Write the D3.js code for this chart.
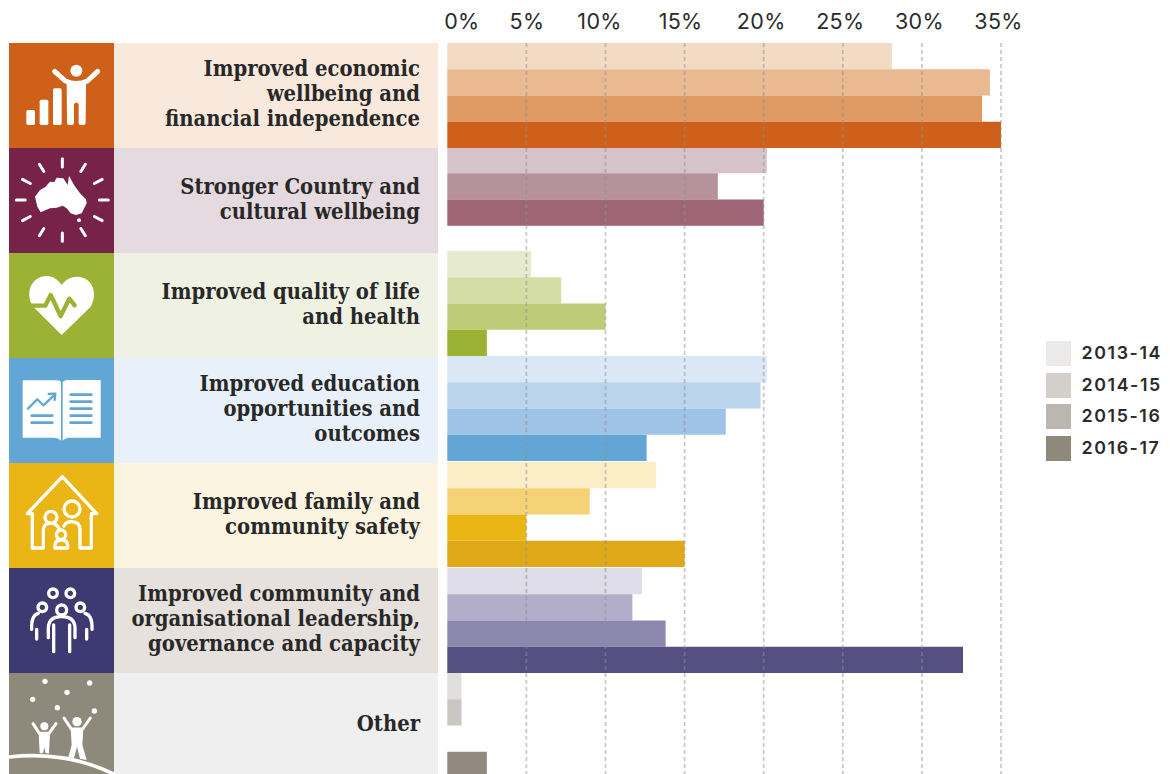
<!DOCTYPE html>
<html>
<head>
<meta charset="utf-8">
<script src="https://cdn.jsdelivr.net/npm/d3@7"></script>
<style>
html,body{margin:0;padding:0;background:#fff;overflow:hidden}
svg{display:block}
.cat{font-family:"DejaVu Serif Condensed","DejaVu Serif",serif;font-weight:700;font-size:21.8px;fill:#282828;text-anchor:end}
.tick text,.lg{font-family:"Inter","Open Sans",sans-serif;fill:#2b2b2b}
</style>
</head>
<body>
<svg id="chart" width="1170" height="774"></svg>
<script>
// Share of activity by outcome area and financial year (percent)
const categories = [
  ["Improved economic","wellbeing and","financial independence"],
  ["Stronger Country and","cultural wellbeing"],
  ["Improved quality of life","and health"],
  ["Improved education","opportunities and","outcomes"],
  ["Improved family and","community safety"],
  ["Improved community and","organisational leadership,","governance and capacity"],
  ["Other"]
];
const years = ["2013-14","2014-15","2015-16","2016-17"];
const values2013 = [28.1, 20.2, 5.3, 20.2, 13.2, 12.3, 0.9];
const values2014 = [34.3, 17.1, 7.2, 19.8, 9.0, 11.7, 0.9];
const values2015 = [33.8, 20.0, 10.0, 17.6, 5.0, 13.8, null];
const values2016 = [35.0, null, 2.5, 12.6, 15.0, 32.6, 2.5];
const tickValues = [0,5,10,15,20,25,30,35];
const tickShift = [14,0,-6.5,-4.5,-3,-3,-3,-3];
const barRowShift = [0,-1,-2,-2,-1,0,0];

const iconColors = ["#cf601a","#772248","#9cb234","#62a6d6","#eab616","#3d3a72","#8e897b"];
const labelBacks = ["#f9e9dc","#e5dadf","#eff2e2","#e8f0f9","#fbf4e0","#e6e1dc","#efefef"];
const barColors = [
  ["#f3dac3","#e9ba91","#df9b63","#cf601a"],
  ["#d6c3c9","#b6929b","#9e6577","#9e6577"],
  ["#e6ebd0","#d4dda6","#becb78","#9cb234"],
  ["#dae7f5","#bad4ee","#9ec3e6","#62a6d6"],
  ["#fbedc6","#f5d276","#eab616","#dfa816"],
  ["#deddE9","#b2aeca","#8b87ad","#564f82"],
  ["#e0dfdc","#cac6c1","#bbb7b0","#928a7e"]
];
const legendColors = ["#ebeae8","#d3d0cc","#bbb7b0","#8e897b"];

const series = [values2013, values2014, values2015, values2016];
const svg = d3.select("#chart");

const x = d3.scaleLinear().domain([0,35]).range([447.3,1001]);
const y = d3.scaleBand().domain(d3.range(categories.length)).range([43,778]);
const yInner = d3.scaleBand().domain(years).range([0,y.bandwidth()]);

// Category panels: coloured icon tile and tinted label block
const rows = svg.selectAll("g.row").data(categories).join("g").attr("class","row")
  .attr("transform",(d,i)=>`translate(0,${y(i)})`);
rows.append("rect").attr("x",9).attr("width",105).attr("height",y.bandwidth())
  .attr("fill",(d,i)=>iconColors[i]);
rows.append("rect").attr("x",114).attr("width",324).attr("height",y.bandwidth())
  .attr("fill",(d,i)=>labelBacks[i]);
rows.each(function(lines){
  const g = d3.select(this);
  lines.forEach((t,k)=>{
    g.append("text").attr("class","cat").attr("x",420)
      .attr("y",y.bandwidth()/2+5.5+(k-(lines.length-1)/2)*25).text(t);
  });
});

// Bars, one band per year inside each category
years.forEach((yr,s)=>{
  svg.append("g").selectAll("rect")
    .data(series[s].map((v,i)=>({v,i})).filter(d=>d.v!==null))
    .join("rect")
    .attr("x",x(0))
    .attr("y",d=>y(d.i)+barRowShift[d.i]+yInner(yr))
    .attr("width",d=>x(d.v)-x(0))
    .attr("height",yInner.bandwidth())
    .attr("fill",d=>barColors[d.i][s]);
});

// Top axis with dashed gridlines running over the bars
const axis = svg.append("g").attr("transform","translate(0,43)")
  .call(d3.axisTop(x).tickValues(tickValues).tickFormat(d=>d+"%").tickSize(0));
axis.select(".domain").remove();
axis.selectAll(".tick text")
  .attr("dx",(d,i)=>tickShift[i]).attr("y",-14)
  .style("font-size","21.5px").style("font-weight",400).style("letter-spacing",".3px")
  .attr("text-anchor","middle").attr("dy",0);
svg.append("g").selectAll("line").data(tickValues.slice(1)).join("line")
  .attr("x1",d=>x(d)).attr("x2",d=>x(d)).attr("y1",43).attr("y2",774)
  .attr("stroke","#8f8f8f").attr("stroke-opacity",.5).attr("stroke-width",1.7)
  .attr("stroke-dasharray","4 3");

// Year legend
const legendTop = d3.scaleBand().domain(years).range([341,469]);
const lg = svg.append("g").selectAll("g").data(years).join("g")
  .attr("transform",d=>`translate(1046,${legendTop(d)-(years.indexOf(d)>1?1:0)})`);
lg.append("rect").attr("width",25).attr("height",25).attr("fill",(d,i)=>legendColors[i]);
lg.append("text").attr("class","lg").attr("x",35.5).attr("y",18)
  .style("font-size","17.8px").style("font-weight",600).style("letter-spacing","1.6px").text(d=>d);

// Pictograms, authored on a 3x grid and scaled down onto their tiles
const W = "#fff";
const iconOffsets = [0,0,250,333.3,333.3,560,560];
const icons = svg.append("g").selectAll("g").data(iconColors).join("g")
  .attr("transform",(d,i)=>`translate(0,${iconOffsets[i]}) scale(${1/3})`);
const ic = i => d3.select(icons.nodes()[i]);
const outline = (g,d,w,c=W)=>g.append("path").attr("d",d).attr("fill","none").attr("stroke",c)
  .attr("stroke-width",w).attr("stroke-linecap","round").attr("stroke-linejoin","round");
const solid = (g,d,c=W)=>g.append("path").attr("d",d).attr("fill",c);
const disc = (g,cx,cy,r,c=W)=>g.append("circle").attr("cx",cx).attr("cy",cy).attr("r",r).attr("fill",c);
const ring = (g,cx,cy,r,w,c=W)=>g.append("circle").attr("cx",cx).attr("cy",cy).attr("r",r)
  .attr("fill","none").attr("stroke",c).attr("stroke-width",w);

// Rising bars and a figure with raised arms
{
  const g = ic(0);
  [[79,330],[119,299],[159,265]].forEach(([bx,by])=>g.append("rect").attr("x",bx).attr("y",by)
    .attr("width",26).attr("height",375-by).attr("rx",5).attr("fill",W));
  disc(g,229,212,18);
  outline(g,"M164 214 L196 243 Q229 258 262 243 L293 214",15);
  solid(g,"M200 248 Q229 262 258 248 L257 368 Q257 375 250 375 L242 375 Q236 375 236 368 L236 312 Q229 303 222 312 L222 368 Q222 375 215 375 L207 375 Q201 375 201 368 Z");
}
// Australia with radiating dashes
{
  const g = ic(1);
  d3.range(12).forEach(k=>{
    const a = k*Math.PI/6;
    const s = Math.sin(a), c = Math.cos(a);
    outline(g,`M${187+s*111} ${600-c*99} L${187+s*138} ${600-c*124}`,9);
  });
  solid(g,"M105 590 L120 570 L135 562 L150 545 L163 546 L170 533 L190 535 L203 555 L207 527 L222 555 L240 580 L258 598 L260 610 L245 640 L228 645 L212 640 L200 625 L188 617 L170 623 L150 625 L122 637 L112 620 Z");
  disc(g,237,661,6);
}
// Heart with a pulse trace
{
  const g = ic(2);
  solid(g,"M185 255 L100 170 C72 130 95 78 140 78 C160 78 175 90 185 105 C195 90 212 80 232 80 C278 82 295 130 272 170 Z");
  outline(g,"M92 167 L136 167 L152 135 L182 198 L208 146 L224 166",13,"#9cb234");
}
// Open book with a trend line and text rows
{
  const g = ic(3);
  const blue = "#62a6d6";
  solid(g,"M68 141 L170 141 Q180 141 183 146 L183 322 Q175 313 160 313 L68 313 Z");
  solid(g,"M302 140 L205 140 Q193 140 188 146 L188 322 Q196 313 210 313 L302 313 Z");
  outline(g,"M84 226 L112 198 L130 216 L162 186",7,blue);
  outline(g,"M146 182 L166 181 L164 200",7,blue);
  [247,268].forEach(ly=>outline(g,`M95 ${ly} L157 ${ly}`,8,blue));
  [184,205,226,247,268].forEach(ly=>outline(g,`M212 ${ly} L274 ${ly}`,8,blue));
}
// House with a family inside
{
  const g = ic(4);
  outline(g,"M97 644 L97 541 L82 541 L187 430 L290 541 L274 541 L274 644 L240 644 L240 590 Q240 565 215 565 Q198 565 192 578",10);
  outline(g,"M97 644 L130 644 L130 590 Q130 570 152 570 Q175 570 178 592",10);
  ring(g,153,552,18,10);
  ring(g,216,527,24,10);
  ring(g,183,604,14,10);
  outline(g,"M165 644 L165 636 Q165 620 183 620 Q203 620 203 636 L203 644 M165 644 L203 644",10);
}
// Group of people
{
  const g = ic(5);
  [[159,100,13],[211,100,13],[127,142,13],[241,142,13],[185,150,15]].forEach(([cx,cy,r])=>ring(g,cx,cy,r,10));
  outline(g,"M145 233 L145 205 Q145 170 185 170 Q225 170 225 205 L225 233",10);
  outline(g,"M161 195 L161 275 M209 195 L209 275",10);
  outline(g,"M110 237 L110 208 M95 208 Q93 165 115 160",10);
  outline(g,"M260 237 L260 208 M276 208 Q278 165 255 160",10);
}
// Two figures reaching for falling stars, on a hill
{
  const g = ic(6);
  [[135,364,8],[269,369,8],[201,397,8],[98,418,8],[172,443,8],[283,453,8]].forEach(([cx,cy,r])=>disc(g,cx,cy,r));
  disc(g,133,499,12);
  disc(g,231,485,14);
  outline(g,"M99 491 L118 520 L147 520 L168 491",9);
  outline(g,"M192 474 L214 507 L248 507 L271 474",9);
  solid(g,"M116 518 L150 518 L147 580 L137 580 L133 562 L129 580 L119 580 Z");
  solid(g,"M212 505 L250 505 L247 555 L260 600 L240 596 L231 560 L222 594 L205 592 L215 555 Z");
  outline(g,"M27 591 Q200 572 340 642",11);
}
</script>
</body>
</html>
